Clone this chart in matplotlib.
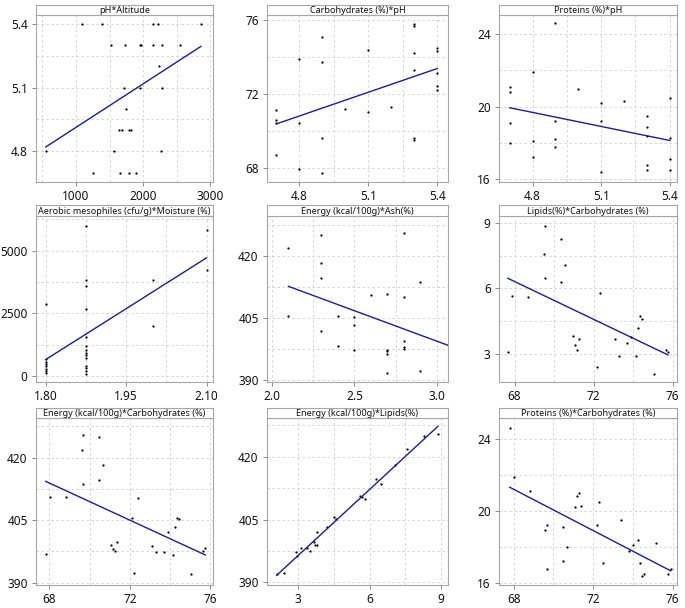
import numpy as np
import matplotlib
matplotlib.use("Agg")
import matplotlib.pyplot as plt
from matplotlib.ticker import MultipleLocator

plt.rcParams['font.family'] = ['Noto Sans', 'DejaVu Sans']

# pH vs altitude
altitude = [1084, 1381, 2149, 2218, 2861,
            1515, 1728, 1950, 1970, 2149, 2277, 2545,
            2238,
            1713, 1950, 2287,
            1738,
            1644, 1683, 1787, 1827,
            550, 1564, 2267,
            1248, 1663, 1787, 1901]
ph_alt = [5.4, 5.4, 5.4, 5.4, 5.4,
          5.3, 5.3, 5.3, 5.3, 5.3, 5.3, 5.3,
          5.2,
          5.1, 5.1, 5.1,
          5.0,
          4.9, 4.9, 4.9, 4.9,
          4.8, 4.8, 4.8,
          4.7, 4.7, 4.7, 4.7]

# carbohydrates vs pH
ph_carb = [4.7, 4.7, 4.7, 4.7, 4.8, 4.8, 4.8, 4.9, 4.9, 4.9, 4.9, 5.0, 5.1, 5.1,
           5.2, 5.3, 5.3, 5.3, 5.3, 5.3, 5.3, 5.4, 5.4, 5.4, 5.4, 5.4]
carb_ph = [71.1, 70.6, 70.4, 68.7, 73.9, 70.4, 67.9, 75.1, 73.7, 69.6, 67.7, 71.2, 74.4, 71.0,
           71.3, 75.8, 75.7, 74.2, 73.3, 69.6, 69.5, 74.5, 74.3, 73.1, 72.4, 72.2]

# proteins vs pH
ph_prot = [4.7, 4.7, 4.7, 4.7, 4.8, 4.8, 4.8, 4.9, 4.9, 4.9, 4.9, 5.0, 5.1, 5.1, 5.1,
           5.2, 5.3, 5.3, 5.3, 5.3, 5.3, 5.4, 5.4, 5.4, 5.4]
prot_ph = [21.1, 20.8, 19.1, 18.0, 21.9, 18.1, 17.2, 24.6, 19.2, 18.2, 17.8, 21.0, 20.2, 19.2, 16.4,
           20.3, 19.5, 18.9, 18.4, 16.8, 16.5, 20.5, 18.3, 17.1, 16.5]

# aerobic mesophiles vs moisture
moisture = [1.80] * 8 + [1.875] * 14 + [2.0, 2.0, 2.1, 2.1]
mesophiles = [2880, 672, 580, 490, 400, 310, 220, 140,
              5988, 3812, 3601, 2691, 1583, 1187, 1042, 937, 831, 725, 409, 330, 198, 92,
              3812, 1992, 5817, 4234]

# energy vs ash
ash = [2.1, 2.1, 2.3, 2.3, 2.3, 2.3, 2.4, 2.4, 2.5, 2.5, 2.5, 2.6,
       2.7, 2.7, 2.7, 2.7, 2.7, 2.8, 2.8, 2.8, 2.8, 2.8, 2.9, 2.9, 3.1, 3.2]
energy_ash = [421.9, 405.6, 425.1, 418.2, 414.7, 402.0, 405.4, 398.2, 405.2, 403.3, 397.2, 410.5,
              410.7, 397.4, 397.0, 396.4, 391.8, 425.6, 410.1, 399.6, 398.0, 397.5, 413.6, 392.3,
              398.8, 397.4]

# lipids vs carbohydrates
carb_lip = [67.66, 67.88, 68.67, 69.48, 69.55, 69.55, 70.36, 70.36, 70.56, 70.96, 71.06, 71.16,
            71.26, 72.17, 72.32, 73.08, 73.26, 73.67, 73.89, 74.14, 74.24, 74.34, 74.46, 75.04,
            75.64, 75.76]
lipids_carb = [3.08, 5.67, 5.59, 7.60, 8.88, 6.49, 8.27, 6.30, 7.09, 3.80, 3.40, 3.19,
               3.69, 2.38, 5.81, 3.69, 2.90, 3.48, 3.78, 2.90, 4.18, 4.72, 4.59, 2.07,
               3.16, 3.07]

# energy vs carbohydrates
carb_en = [67.82, 68.03, 68.81, 69.60, 69.65, 69.69, 70.46, 70.46, 70.68, 71.06, 71.17, 71.27,
           71.36, 72.10, 72.20, 72.40, 73.11, 73.29, 73.69, 73.88, 74.15, 74.26, 74.35, 74.46,
           75.06, 75.64, 75.75]
energy_carb = [396.9, 410.5, 410.6, 421.8, 425.5, 413.6, 424.9, 414.6, 418.2, 398.9, 398.1, 397.6,
               399.7, 405.6, 392.3, 410.4, 398.8, 397.3, 397.4, 402.1, 396.5, 403.4, 405.5, 405.3,
               392.0, 397.5, 398.3]

# energy vs lipids
lipids_en = [2.10, 2.42, 2.92, 2.96, 3.11, 3.38, 3.51, 3.66, 3.72, 3.80, 3.79, 4.20, 4.51, 4.61,
             5.59, 5.68, 5.79, 6.27, 6.48, 7.07, 7.59, 8.30, 8.87]
energy_lip = [392.0, 392.3, 397.2, 396.3, 398.2, 398.1, 397.5, 399.7, 398.9, 398.9, 402.1, 403.3,
              405.6, 405.2, 410.5, 410.4, 410.0, 414.6, 413.5, 418.1, 421.8, 424.9, 425.5]

# proteins vs carbohydrates
carb_prot = [67.80, 68.00, 68.81, 69.60, 69.68, 69.68, 70.49, 70.49, 70.69, 71.10, 71.19, 71.30,
             71.40, 72.17, 72.27, 72.48, 73.39, 73.79, 73.99, 74.25, 74.36, 74.46, 74.58, 75.15,
             75.79, 75.90]
prot_carb = [24.6, 21.9, 21.1, 18.93, 19.22, 16.80, 19.09, 17.23, 18.01, 20.22, 20.81, 21.0,
             20.30, 19.22, 20.52, 17.10, 19.52, 17.80, 18.11, 18.41, 17.10, 16.39, 16.50, 18.22,
             16.50, 16.80]

titles = ["pH*Altitude", "Carbohydrates (%)*pH", "Proteins (%)*pH",
          "Aerobic mesophiles (cfu/g)*Moisture (%)", "Energy (kcal/100g)*Ash(%)",
          "Lipids(%)*Carbohydrates (%)",
          "Energy (kcal/100g)*Carbohydrates (%)", "Energy (kcal/100g)*Lipids(%)",
          "Proteins (%)*Carbohydrates (%)"]

xs = [altitude, ph_carb, ph_prot, moisture, ash, carb_lip, carb_en, lipids_en, carb_prot]
ys = [ph_alt, carb_ph, prot_ph, mesophiles, energy_ash, lipids_carb, energy_carb, energy_lip, prot_carb]

xticks = [[1000, 2000, 3000], [4.8, 5.1, 5.4], [4.8, 5.1, 5.4],
          [1.80, 1.95, 2.10], [2.0, 2.5, 3.0], [68, 72, 76],
          [68, 72, 76], [3, 6, 9], [68, 72, 76]]
xticklabels = [["1000", "2000", "3000"], ["4.8", "5.1", "5.4"], ["4.8", "5.1", "5.4"],
               ["1.80", "1.95", "2.10"], ["2.0", "2.5", "3.0"], ["68", "72", "76"],
               ["68", "72", "76"], ["3", "6", "9"], ["68", "72", "76"]]
yticks = [[4.8, 5.1, 5.4], [68, 72, 76], [16, 20, 24],
          [0, 2500, 5000], [390, 405, 420], [3, 6, 9],
          [390, 405, 420], [390, 405, 420], [16, 20, 24]]

xlims = [(406, 3040), (4.659, 5.447), (4.653, 5.432),
         (1.782, 2.112), (1.97, 3.067), (67.21, 76.22),
         (67.34, 76.13), (1.69, 9.30), (67.26, 76.22)]
ylims = [(4.656, 5.441), (67.22, 76.27), (15.85, 25.05),
         (-224, 6372), (389.6, 429.6), (1.71, 9.32),
         (389.4, 429.5), (389.4, 429.2), (15.9, 25.16)]

W, H = 685, 608
cols = [(36, 213), (267, 448), (499, 677)]
rows = [(5, 15, 182), (205, 216, 382), (408, 418, 585)]

fig = plt.figure(figsize=(W / 100, H / 100), dpi=100)
frame = "#a6a6a6"

for i in range(9):
    l, r = cols[i % 3]
    top, sb, bot = rows[i // 3]
    ax = fig.add_axes([l / W, 1 - bot / H, (r - l) / W, (bot - sb) / H])
    st = fig.add_axes([l / W, 1 - sb / H, (r - l) / W, (sb - top) / H])

    x = np.array(xs[i], dtype=float)
    y = np.array(ys[i], dtype=float)
    ax.scatter(x, y, s=2.6, c="black", linewidths=0, zorder=3)
    k, b = np.polyfit(x, y, 1)
    xx = np.array([x.min(), x.max()])
    ax.plot(xx, k * xx + b, color="#1e1e8c", lw=1.0, zorder=4)

    ax.set_xlim(xlims[i])
    ax.set_ylim(ylims[i])
    ax.set_xticks(xticks[i])
    ax.set_xticklabels(xticklabels[i])
    ax.set_yticks(yticks[i])
    ax.xaxis.set_minor_locator(MultipleLocator((xticks[i][1] - xticks[i][0]) / 2))
    ax.yaxis.set_minor_locator(MultipleLocator((yticks[i][1] - yticks[i][0]) / 2))
    ax.grid(True, which="both", ls=(0, (3, 3)), color="#cfcfcf", lw=0.6)
    ax.set_axisbelow(True)
    ax.tick_params(which="minor", length=0)
    ax.tick_params(which="major", length=3, width=0.6, color="#777777",
                   labelsize=8.5, labelcolor="#111111", pad=3)
    for s in ax.spines.values():
        s.set_color(frame)
        s.set_linewidth(0.8)

    st.set_xticks([])
    st.set_yticks([])
    for s in st.spines.values():
        s.set_color(frame)
        s.set_linewidth(0.8)
    st.text(0.5, 0.45, titles[i], ha="center", va="center", fontsize=6.5,
            color="#111111", transform=st.transAxes)

fig.savefig("out.png", dpi=100)
